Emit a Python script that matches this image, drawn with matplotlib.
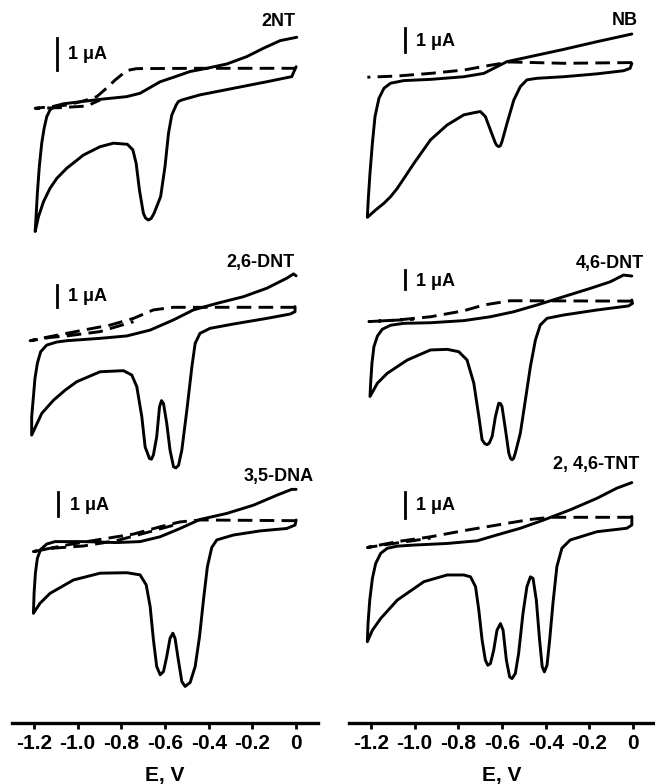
import matplotlib.pyplot as plt
import numpy as np

plt.rcParams['font.family'] = ['Liberation Sans', 'DejaVu Sans']
plt.rcParams['font.weight'] = 'bold'

# ---- voltammograms: E in V, I in uA (forward sweep 0 -> -1.2, then back) ----

# 2-nitrotoluene
nt2_e = [0, -0.02, -0.134, -0.287, -0.44, -0.523, -0.539, -0.549, -0.569, -0.584, -0.60, -0.62,
         -0.65, -0.663, -0.676, -0.689, -0.699, -0.717, -0.732, -0.747, -0.772, -0.836, -0.897,
         -0.973, -1.05, -1.095, -1.126, -1.156, -1.179, -1.194,
         -1.189, -1.184, -1.175, -1.164, -1.153, -1.141, -1.126, -1.103, -1.065, -0.897, -0.775,
         -0.714, -0.668, -0.622, -0.561, -0.485, -0.409, -0.317, -0.226, -0.15, -0.073, 0.003]
nt2_i = [0.05, -0.26, -0.42, -0.625, -0.83, -0.99, -1.04, -1.15, -1.46, -2.03, -3.07, -4.01,
         -4.53, -4.69, -4.74, -4.68, -4.53, -3.80, -2.97, -2.55, -2.375, -2.34, -2.45,
         -2.71, -3.125, -3.44, -3.75, -4.17, -4.64, -5.10,
         -4.53, -3.91, -3.07, -2.34, -1.875, -1.51, -1.30, -1.18, -1.11, -0.97, -0.885,
         -0.78, -0.60, -0.42, -0.28, -0.10, 0.0, 0.135, 0.365, 0.625, 0.865, 0.97]
nt2_bg_e = [0, -0.44, -0.73, -0.775, -0.828, -0.874, -0.912, -0.973, -1.05, -1.126, -1.194,
            -1.08, -0.958, -0.897]
nt2_bg_i = [0, 0, -0.01, -0.07, -0.365, -0.66, -0.885, -1.02, -1.15, -1.20, -1.25,
            -1.23, -1.18, -0.99]

# nitrobenzene
nb_e = [-0.006, -0.014, -0.044, -0.166, -0.318, -0.44, -0.486, -0.516, -0.546, -0.577, -0.60,
        -0.607, -0.615, -0.623, -0.63, -0.653, -0.676, -0.699, -0.729, -0.775, -0.851, -0.927,
        -1.003, -1.079, -1.11, -1.14, -1.178, -1.216,
        -1.212, -1.204, -1.193, -1.181, -1.163, -1.14, -1.11, -1.049, -0.927, -0.775, -0.683,
        -0.623, -0.577, -0.47, -0.318, -0.166, -0.006]
nb_i = [0, -0.21, -0.31, -0.44, -0.56, -0.625, -0.69, -0.97, -1.53, -2.5, -3.26,
        -3.43, -3.47, -3.43, -3.33, -2.78, -2.22, -2.01, -2.06, -2.15, -2.57, -3.19,
        -4.17, -5.21, -5.56, -5.83, -6.11, -6.42,
        -5.69, -4.58, -3.33, -2.22, -1.46, -1.04, -0.83, -0.72, -0.67, -0.56, -0.42,
        -0.14, 0.07, 0.28, 0.58, 0.90, 1.22]
nb_bg_e = [-0.006, -0.318, -0.562, -0.653, -0.775, -0.927, -1.08, -1.216]
nb_bg_i = [0.03, 0, 0.055, -0.08, -0.28, -0.42, -0.53, -0.58]

# 2,6-dinitrotoluene
dnt26_e = [-0.005, -0.005, -0.027, -0.134, -0.287, -0.394, -0.44, -0.462, -0.477, -0.50, -0.523,
           -0.538, -0.55, -0.561, -0.577, -0.592, -0.607, -0.616, -0.625, -0.638, -0.653, -0.662,
           -0.671, -0.691, -0.706, -0.729, -0.752, -0.79, -0.897, -1.004, -1.057, -1.11, -1.164,
           -1.21,
           -1.21, -1.202, -1.195, -1.184, -1.169, -1.141, -1.095, -1.05, -0.897, -0.775, -0.668,
           -0.561, -0.47, -0.363, -0.241, -0.134, -0.043, -0.012, 0]
dnt26_i = [0.03, -0.2, -0.31, -0.51, -0.77, -0.97, -1.2, -1.66, -2.74, -4.74, -6.58,
           -7.28, -7.4, -7.35, -6.58, -5.35, -4.43, -4.3, -4.58, -5.97, -6.8, -7.0,
           -6.97, -6.43, -5.05, -3.66, -3.12, -2.92, -2.97, -3.43, -3.82, -4.28, -4.89,
           -5.89,
           -5.05, -4.12, -3.28, -2.58, -2.05, -1.74, -1.6, -1.54, -1.43, -1.32, -1.05,
           -0.58, -0.12, 0.18, 0.49, 0.88, 1.34, 1.54, 1.45]
dnt26_bg_e = [-0.005, -0.561, -0.653, -0.744, -0.851, -0.973, -1.126, -1.217,
              -1.126, -1.05, -0.897, -0.744]
dnt26_bg_i = [0, 0, -0.12, -0.51, -0.82, -1.05, -1.35, -1.54,
              -1.39, -1.32, -1.12, -0.66]

# 4,6-dinitrotoluene
dnt46_e = [-0.006, -0.003, -0.021, -0.166, -0.318, -0.394, -0.425, -0.447, -0.47, -0.493, -0.516,
           -0.539, -0.547, -0.554, -0.561, -0.569, -0.584, -0.60, -0.607, -0.615, -0.63, -0.645,
           -0.658, -0.668, -0.679, -0.691, -0.706, -0.729, -0.76, -0.798, -0.85, -0.927, -1.033,
           -1.125, -1.17, -1.204,
           -1.201, -1.195, -1.186, -1.17, -1.148, -1.11, -1.049, -0.927, -0.775, -0.653, -0.546,
           -0.44, -0.318, -0.196, -0.105, -0.044, -0.006]
dnt46_i = [0.09, -0.09, -0.22, -0.43, -0.69, -0.86, -1.21, -1.98, -3.36, -5.09, -6.81,
           -7.84, -8.12, -8.19, -8.12, -7.84, -6.64, -5.43, -5.28, -5.26, -5.95, -6.98,
           -7.32, -7.41, -7.35, -7.16, -5.95, -4.22, -3.02, -2.59, -2.47, -2.5, -3.02,
           -3.71, -4.22, -4.91,
           -4.22, -3.19, -2.33, -1.78, -1.43, -1.22, -1.12, -1.09, -0.98, -0.78, -0.52,
           -0.17, 0.26, 0.69, 1.03, 1.38, 1.33]
dnt46_bg_e = [-0.006, -0.562, -0.683, -0.775, -0.927, -1.079, -1.209, -1.003]
dnt46_bg_i = [0.03, 0.05, -0.17, -0.47, -0.78, -0.95, -1.03, -0.91]

# 3,5-dinitroaniline
dna35_e = [0, -0.005, -0.043, -0.165, -0.287, -0.363, -0.386, -0.406, -0.424, -0.442, -0.462,
           -0.485, -0.508, -0.523, -0.539, -0.554, -0.564, -0.577, -0.592, -0.607, -0.622, -0.638,
           -0.653, -0.668, -0.686, -0.714, -0.775, -0.897, -1.019, -1.126, -1.172, -1.202,
           -1.199, -1.193, -1.184, -1.169, -1.141, -1.103, -0.973, -0.821, -0.714, -0.622, -0.531,
           -0.44, -0.317, -0.195, -0.088, -0.02, 0]
dna35_i = [0.03, -0.18, -0.32, -0.42, -0.59, -0.79, -1.10, -1.89, -3.26, -4.77, -6.0,
           -6.66, -6.82, -6.62, -5.73, -4.84, -4.63, -4.84, -5.59, -6.21, -6.34, -6.0,
           -4.90, -3.53, -2.64, -2.23, -2.14, -2.16, -2.44, -2.99, -3.40, -3.81,
           -2.99, -2.16, -1.55, -1.18, -0.96, -0.86, -0.86, -0.90, -0.86, -0.66, -0.32,
           0.05, 0.30, 0.64, 1.05, 1.29, 1.29]
dna35_bg_e = [0, -0.44, -0.531, -0.622, -0.744, -0.897, -1.05, -1.202,
              -1.126, -0.973, -0.821, -0.668, -0.531]
dna35_bg_i = [0, 0.03, -0.05, -0.25, -0.55, -0.77, -1.0, -1.27,
              -1.14, -1.04, -0.82, -0.45, -0.11]

# 2,4,6-trinitrotoluene
tnt_e = [-0.006, -0.006, -0.029, -0.166, -0.288, -0.326, -0.349, -0.367, -0.382, -0.394, -0.406,
         -0.416, -0.428, -0.443, -0.458, -0.47, -0.486, -0.504, -0.524, -0.539, -0.554, -0.565,
         -0.58, -0.595, -0.607, -0.623, -0.638, -0.653, -0.665, -0.676, -0.691, -0.706, -0.721,
         -0.744, -0.775, -0.851, -0.957, -1.079, -1.155, -1.193, -1.216,
         -1.213, -1.205, -1.193, -1.178, -1.155, -1.125, -1.079, -1.003, -0.851, -0.714, -0.623,
         -0.516, -0.409, -0.288, -0.166, -0.075, -0.006]
tnt_i = [0.03, -0.29, -0.41, -0.54, -0.85, -1.16, -1.85, -3.23, -4.6, -5.54, -5.79,
         -5.6, -4.6, -3.1, -2.29, -2.23, -2.6, -3.6, -5.1, -5.85, -6.04, -5.98,
         -5.35, -4.23, -3.98, -4.23, -4.98, -5.48, -5.54, -5.35, -4.6, -3.48, -2.6,
         -2.23, -2.16, -2.16, -2.41, -3.1, -3.79, -4.23, -4.66,
         -3.98, -3.1, -2.29, -1.73, -1.35, -1.16, -1.08, -1.04, -0.98, -0.88, -0.66,
         -0.41, -0.1, 0.28, 0.71, 1.09, 1.3]
tnt_bg_e = [-0.006, -0.379, -0.47, -0.623, -0.775, -0.927, -1.079, -1.216, -1.079, -0.927]
tnt_bg_i = [0, 0, -0.08, -0.29, -0.5, -0.73, -0.91, -1.13, -0.96, -0.78]

# ---- layout (pixels) ----
W, H = 655, 784
fig = plt.figure(figsize=(W / 100, H / 100), dpi=100)
fig.patch.set_facecolor('white')

cols = [(12, 318), (349, 655)]
xlim = (-1.30, 0.10)

# col, zero-current row (px), px per uA, curves, scale bar E, scale bar bottom (uA),
# "1 uA" label position, title, title position
panels = [
    (0, 68.3, 32.0, nt2_e, nt2_i, nt2_bg_e, nt2_bg_i, -1.095, -0.05, (-1.043, 0.42), '2NT', (-0.005, 1.46)),
    (1, 63.3, 24.0, nb_e, nb_i, nb_bg_e, nb_bg_i, -1.046, 0.47, (-0.995, 0.90), 'NB', (0.023, 1.78)),
    (0, 307.3, 21.7, dnt26_e, dnt26_i, dnt26_bg_e, dnt26_bg_i, -1.095, 0.03, (-1.042, 0.52), '2,6-DNT', (-0.005, 2.07)),
    (1, 301.7, 19.3, dnt46_e, dnt46_i, dnt46_bg_e, dnt46_bg_i, -1.046, 0.64, (-0.995, 1.03), '4,6-DNT', (0.05, 1.99)),
    (0, 520.7, 24.3, dna35_e, dna35_i, dna35_bg_e, dna35_bg_i, -1.088, 0.19, (-1.034, 0.64), '3,5-DNA', (0.079, 1.81)),
    (1, 517.3, 26.7, tnt_e, tnt_i, tnt_bg_e, tnt_bg_i, -1.046, -0.04, (-0.995, 0.43), '2, 4,6-TNT', (0.03, 1.96)),
]

for col, base, scale, e, i, bg_e, bg_i, bar_e, bar_lo, lab, name, name_pos in panels:
    x0, x1 = cols[col]
    ax = fig.add_axes([x0 / W, 0, (x1 - x0) / W, 1])
    ax.set_xlim(xlim)
    ax.set_ylim((base - H) / scale, base / scale)
    ax.axis('off')
    ax.plot(e, i, color='black', lw=2.1, solid_joinstyle='round', solid_capstyle='round')
    ax.plot(bg_e, bg_i, color='black', lw=2.1, dashes=(5, 2.5))
    ax.plot([bar_e, bar_e], [bar_lo, bar_lo + 1.0], color='black', lw=2)
    ax.text(lab[0], lab[1], '1 μA', ha='left', va='center', fontsize=13, fontweight='bold')
    ax.text(name_pos[0], name_pos[1], name, ha='right', va='center', fontsize=13, fontweight='bold')

# potential axes along the bottom
ticks = [-1.2, -1.0, -0.8, -0.6, -0.4, -0.2, 0]
tick_labels = ['-1.2', '-1.0', '-0.8', '-0.6', '-0.4', '-0.2', '0']
for x0, x1 in cols:
    axx = fig.add_axes([x0 / W, 1 - 723 / H, (x1 - x0) / W, 1e-4])
    axx.set_xlim(xlim)
    axx.patch.set_visible(False)
    for side in ['top', 'left', 'right']:
        axx.spines[side].set_visible(False)
    axx.spines['bottom'].set_linewidth(2.4)
    axx.set_yticks([])
    axx.set_xticks(ticks)
    axx.set_xticklabels(tick_labels, fontsize=15, fontweight='bold')
    axx.tick_params(axis='x', direction='out', length=4, width=2, pad=4)
    axx.set_xlabel('E, V', fontsize=15, fontweight='bold', labelpad=9)

fig.savefig('out.png', dpi=100)
